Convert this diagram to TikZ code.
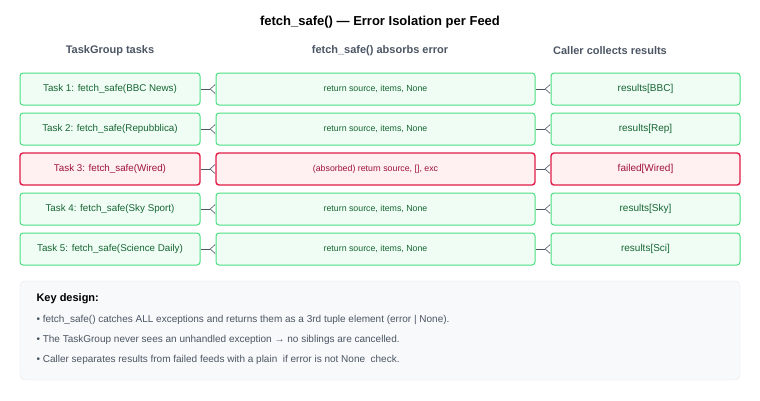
\documentclass[tikz,border=0pt]{standalone}
\usepackage{fontspec}
\setmainfont{Liberation Sans}
\usetikzlibrary{arrows.meta,positioning}
\definecolor{okline}{HTML}{4ADE80}
\definecolor{okfill}{HTML}{F0FDF4}
\definecolor{oktext}{HTML}{166534}
\definecolor{badline}{HTML}{E11D48}
\definecolor{badfill}{HTML}{FFF1F2}
\definecolor{badtext}{HTML}{9F1239}
\definecolor{headgray}{HTML}{4B5563}
\definecolor{panelfill}{HTML}{F8F9FA}
\definecolor{panelline}{HTML}{E5E7EB}
\definecolor{wire}{HTML}{4B5563}
\tikzset{
  box/.style={draw,rounded corners=3pt,minimum height=32pt,inner sep=0pt},
  ok/.style={box,draw=okline,fill=okfill,text=oktext,line width=1pt},
  bad/.style={box,draw=badline,fill=badfill,text=badtext,line width=1.4pt},
  task/.style={minimum width=180pt,font=\fontsize{9.8}{11}\selectfont},
  absorb/.style={minimum width=319pt,font=\fontsize{8.8}{10}\selectfont},
  collect/.style={minimum width=189pt,font=\fontsize{10}{11}\selectfont},
  head/.style={text=headgray,font=\bfseries\fontsize{11}{12}\selectfont},
  link/.style={draw=wire,line width=0.7pt,-{Straight Barb[reversed,length=5pt,width=9pt,line width=0.6pt]}},
  note/.style={anchor=west,text=headgray,font=\fontsize{10}{11}\selectfont}
}
\begin{document}
\begin{tikzpicture}[x=1pt,y=-1pt]
\useasboundingbox (0,0) rectangle (760,400);
\node[font=\bfseries\fontsize{13}{15}\selectfont] (title) at (380,22) {fetch\_safe() — Error Isolation per Feed};
\node[head] (h1) at (110,51) {TaskGroup tasks};
\node[head] (h2) at (380,51) {fetch\_safe() absorbs error};
\node[head] (h3) at (610,51) {Caller collects results};
% task column
\node[ok,task] (t1) at (110,89) {Task 1: fetch\_safe(BBC News)};
\node[ok,task] (t2) at (110,129) {Task 2: fetch\_safe(Repubblica)};
\node[bad,task] (t3) at (110,169) {Task 3: fetch\_safe(Wired)};
\node[ok,task] (t4) at (110,209) {Task 4: fetch\_safe(Sky Sport)};
\node[ok,task] (t5) at (110,249) {Task 5: fetch\_safe(Science Daily)};
% absorb column
\node[ok,absorb] (m1) at (375.5,89) {return source, items, None};
\node[ok,absorb] (m2) at (375.5,129) {return source, items, None};
\node[bad,absorb] (m3) at (375.5,169) {(absorbed) return source, [], exc};
\node[ok,absorb] (m4) at (375.5,209) {return source, items, None};
\node[ok,absorb] (m5) at (375.5,249) {return source, items, None};
% caller column
\node[ok,collect] (r1) at (645.5,89) {results[BBC]};
\node[ok,collect] (r2) at (645.5,129) {results[Rep]};
\node[bad,collect] (r3) at (645.5,169) {failed[Wired]};
\node[ok,collect] (r4) at (645.5,209) {results[Sky]};
\node[ok,collect] (r5) at (645.5,249) {results[Sci]};
\draw[link] (t1) -- (m1);
\draw[link] (t2) -- (m2);
\draw[link] (t3) -- (m3);
\draw[link] (t4) -- (m4);
\draw[link] (t5) -- (m5);
\draw[link] (m1) -- (r1);
\draw[link] (m2) -- (r2);
\draw[link] (m3) -- (r3);
\draw[link] (m4) -- (r4);
\draw[link] (m5) -- (r5);
% key design panel
\draw[draw=panelline,fill=panelfill,rounded corners=5pt] (20,281) rectangle (740,380);
\node[anchor=west,font=\bfseries\fontsize{11}{12}\selectfont] (k0) at (33,299) {Key design:};
\node[note] (k1) at (33,320) {• fetch\_safe() catches ALL exceptions and returns them as a 3rd tuple element (error | None).};
\node[note] (k2) at (33,340) {• The TaskGroup never sees an unhandled exception → no siblings are cancelled.};
\node[note] (k3) at (33,360) {• Caller separates results from failed feeds with a plain \ if error is not None \ check.};
\end{tikzpicture}
\end{document}
